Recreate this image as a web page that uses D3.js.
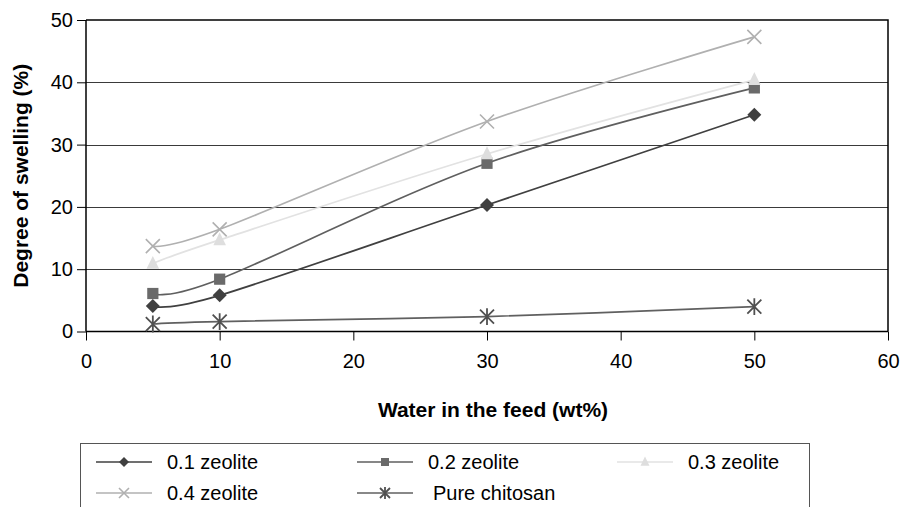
<!DOCTYPE html>
<html><head><meta charset="utf-8">
<script src="https://cdn.jsdelivr.net/npm/d3@7"></script>
<style>body{margin:0;background:#fff}svg{display:block;font-family:"Liberation Sans",Arial,sans-serif}</style>
</head><body><svg id="c" width="902" height="507"></svg>
<script>
const waterFeed = [5, 10, 30, 50];
const seriesNames = ["0.1 zeolite", "0.2 zeolite", "0.3 zeolite", "0.4 zeolite", "Pure chitosan"];
const zeolite01 = [4.1, 5.8, 20.3, 34.8];
const zeolite02 = [6.1, 8.4, 27.0, 39.1];
const zeolite03 = [10.9, 14.7, 28.5, 40.4];
const zeolite04 = [13.7, 16.4, 33.7, 47.3];
const pureChitosan = [1.2, 1.6, 2.4, 4.0];
const xTicks = [0, 10, 20, 30, 40, 50, 60];
const yTicks = [0, 10, 20, 30, 40, 50];

const seriesValues = [zeolite01, zeolite02, zeolite03, zeolite04, pureChitosan];
const styles = [
  {line:"#404040", fill:"#404040", sym:"diamond"},
  {line:"#5f5f5f", fill:"#6a6a6a", sym:"square"},
  {line:"#e2e2e2", fill:"#dedede", sym:"triangle"},
  {line:"#b0b0b0", fill:"#b0b0b0", sym:"x"},
  {line:"#606060", fill:"#505050", sym:"star"}
];

const svg = d3.select("#c");
const L = 86, R = 888, T = 20, B = 331.5;
const x = d3.scaleLinear().domain([0, 60]).range([L, R]);
const y = d3.scaleLinear().domain([0, 50]).range([B, T]);

// gridlines
svg.append("g").selectAll("line").data(yTicks.filter(d => d > 0 && d < 50)).join("line")
  .attr("x1", L).attr("x2", R).attr("y1", d => Math.round(y(d)) + 0.5).attr("y2", d => Math.round(y(d)) + 0.5)
  .attr("stroke", "#3a3a3a").attr("stroke-width", 1);
// border top/right
svg.append("path").attr("d", `M${L},${T}H${R}V${B}`).attr("fill", "none").attr("stroke", "#000").attr("stroke-width", 1.5);

// axes
const xAxis = svg.append("g").attr("transform", `translate(0,${B})`)
  .call(d3.axisBottom(x).tickValues(xTicks).tickSize(9).tickPadding(13));
const yAxis = svg.append("g").attr("transform", `translate(${L},0)`)
  .call(d3.axisLeft(y).tickValues(yTicks).tickSize(9).tickPadding(4));
[xAxis, yAxis].forEach(a => {
  a.select(".domain").attr("stroke", "#000").attr("stroke-width", 1.5);
  a.selectAll(".tick line").attr("stroke", "#000").attr("stroke-width", 1);
  a.selectAll("text").attr("font-size", 20).attr("fill", "#000").attr("font-family", '"Liberation Sans",Arial,sans-serif');
});
yAxis.select(".domain").attr("d", `M0,${B}V${T}`);
xAxis.select(".domain").attr("d", `M${L},0H${R}`);

// axis titles
svg.append("text").attr("x", 493).attr("y", 417).attr("text-anchor", "middle")
  .attr("font-size", 21).attr("font-weight", "bold").text("Water in the feed (wt%)");
svg.append("text").attr("transform", `translate(28,${(T + B) / 2}) rotate(-90)`).attr("text-anchor", "middle")
  .attr("font-size", 21).attr("font-weight", "bold").text("Degree of swelling (%)");

function marker(g, sym, s, st) {
  if (sym === "diamond") g.append("path").attr("d", `M0,${-s}L${s},0L0,${s}L${-s},0Z`).attr("fill", st.fill);
  else if (sym === "square") g.append("rect").attr("x", -s * 0.8).attr("y", -s * 0.8).attr("width", s * 1.6).attr("height", s * 1.6).attr("fill", st.fill);
  else if (sym === "triangle") g.append("path").attr("d", `M0,${-s * 1.1}L${s * 0.9},${s * 0.75}L${-s * 0.9},${s * 0.75}Z`).attr("fill", st.fill);
  else if (sym === "x") g.append("path").attr("d", `M${-s},${-s}L${s},${s}M${-s},${s}L${s},${-s}`).attr("stroke", st.fill).attr("stroke-width", 1.6);
  else if (sym === "star") g.append("path").attr("d", `M${-s},${-s}L${s},${s}M${-s},${s}L${s},${-s}M0,${-s * 1.2}V${s * 1.2}`).attr("stroke", st.fill).attr("stroke-width", 1.8);
}

const line = d3.line().x((d, i) => x(waterFeed[i])).y(d => y(d)).curve(d3.curveCatmullRom.alpha(0));
seriesValues.forEach((vals, k) => {
  const st = styles[k];
  svg.append("path").datum(vals).attr("d", line).attr("fill", "none").attr("stroke", st.line).attr("stroke-width", 1.7);
});
seriesValues.forEach((vals, k) => {
  const st = styles[k];
  vals.forEach((v, i) => {
    const g = svg.append("g").attr("transform", `translate(${x(waterFeed[i])},${y(v)})`);
    marker(g, st.sym, 7, st);
  });
});

// legend
svg.append("rect").attr("x", 80.5).attr("y", 443.5).attr("width", 729).attr("height", 80)
  .attr("fill", "#fff").attr("stroke", "#555").attr("stroke-width", 1);
const legPos = [[96, 462], [357, 462], [617, 462], [96, 493], [357, 493]];
seriesNames.forEach((name, k) => {
  const [lx, ly] = legPos[k];
  const st = styles[k];
  svg.append("line").attr("x1", lx).attr("x2", lx + 56).attr("y1", ly).attr("y2", ly).attr("stroke", st.line).attr("stroke-width", 1.7);
  const g = svg.append("g").attr("transform", `translate(${lx + 28},${ly})`);
  marker(g, st.sym, 5, st);
  svg.append("text").attr("x", lx + 71 + (k === 4 ? 5 : 0)).attr("y", ly + 7).attr("font-size", 20).attr("fill", "#000").text(name);
});
</script></body></html>
